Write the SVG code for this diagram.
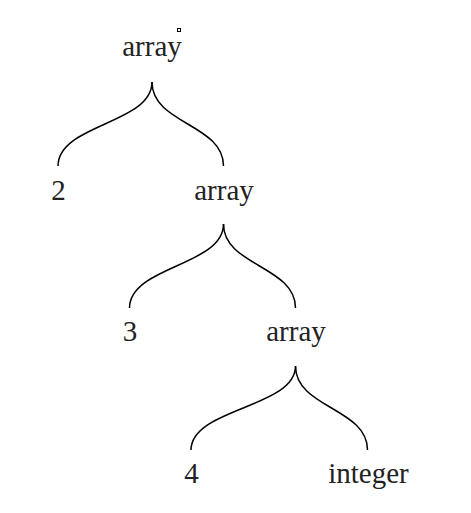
<svg xmlns="http://www.w3.org/2000/svg" width="471" height="513" viewBox="0 0 471 513">
<style>
text{font-family:"Liberation Serif","Times New Roman",serif;font-size:29px;fill:#222;text-anchor:middle}
.link{fill:none;stroke:#000;stroke-width:1.5}
</style>
<rect width="471" height="513" fill="#fff"/>
<rect x="177.5" y="28.5" width="3" height="3" fill="#fff" stroke="#000" stroke-width="1"/>
<g id="connectors">
<path class="link" d="M152,82 C152,124 58,124 58,166"/>
<path class="link" d="M152,82 C152,124 223.5,124 223.5,166"/>
<path class="link" d="M223.5,224 C223.5,266 129.5,266 129.5,308"/>
<path class="link" d="M223.5,224 C223.5,266 295.5,266 295.5,308"/>
<path class="link" d="M295.5,366 C295.5,408 191,408 191,450"/>
<path class="link" d="M295.5,366 C295.5,408 367.5,408 367.5,450"/>
</g>
<g id="n1"><text x="152" y="56">array</text></g>
<g id="n2"><text x="58.5" y="199.5">2</text></g>
<g id="n3"><text x="224" y="199.5">array</text></g>
<g id="n4"><text x="130" y="341">3</text></g>
<g id="n5"><text x="296" y="341">array</text></g>
<g id="n6"><text x="191.5" y="483">4</text></g>
<g id="n7"><text x="368.5" y="483">integer</text></g>
</svg>
